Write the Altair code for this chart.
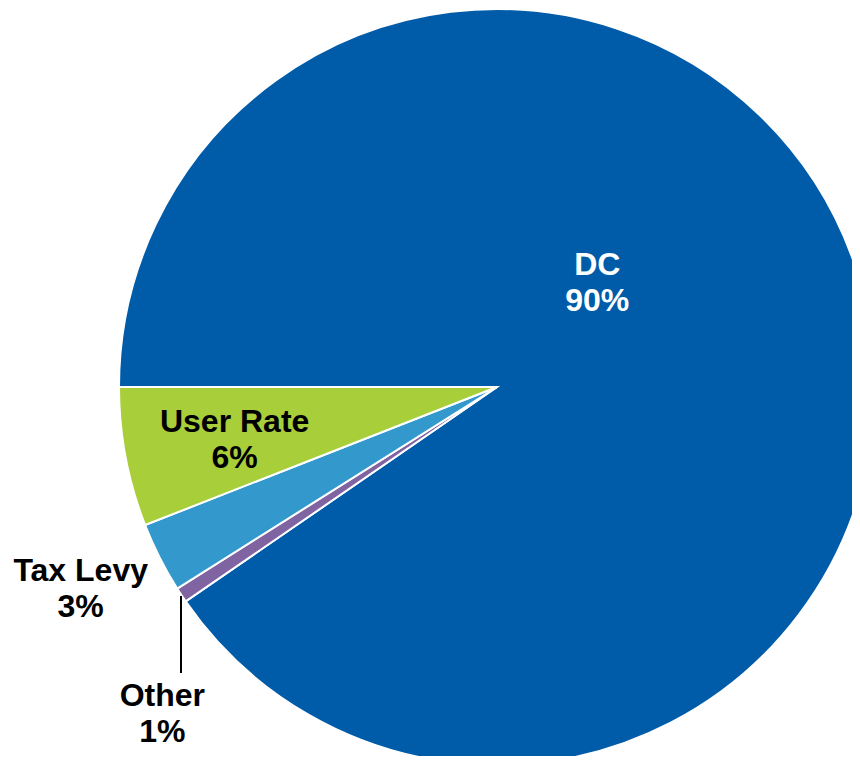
import math
import altair as alt
import pandas as pd

categories = ["DC", "Other", "Tax Levy", "User Rate"]
values = [90.4, 0.65, 3.0, 5.95]
pct_labels = ["90%", "1%", "3%", "6%"]
colors = ["#005BA8", "#8064A2", "#3399CC", "#A8CE3A"]

df = pd.DataFrame({
    "category": categories,
    "value": values,
    "pct": pct_labels,
    "idx": list(range(len(categories))),
})

start = 1.5 * math.pi
theta_scale = alt.Scale(domain=[0, 100], range=[start, start + 2 * math.pi])
CX, CY, R = 489, 379, 378

base = alt.Chart(df).transform_calculate(
    label="datum.category + '\\n' + datum.pct"
).encode(
    theta=alt.Theta("value:Q", stack=True, scale=theta_scale),
    order=alt.Order("idx:Q"),
    x=alt.value(CX),
    y=alt.value(CY),
)

pie = base.mark_arc(radius=R, stroke="white", strokeWidth=2).encode(
    color=alt.Color("category:N",
                    scale=alt.Scale(domain=categories, range=colors),
                    legend=None)
)


def label_layer(cat, radius, dx, dy, color):
    return base.mark_text(
        radius=radius, dx=dx, dy=dy, font="Liberation Sans", fontSize=32,
        fontWeight="bold", lineBreak="\n", lineHeight=36, align="center",
        baseline="middle", color=color,
    ).encode(
        text=alt.condition(alt.datum.category == cat, alt.Text("label:N"), alt.value(""))
    )


labels = [
    label_layer("DC", 127, -21, -84, "white"),
    label_layer("User Rate", 267, 0, -15, "black"),
    label_layer("Tax Levy", 462, -4, -24, "black"),
    label_layer("Other", 378, -19, 101, "black"),
]

leader = alt.Chart(pd.DataFrame({"a": [0]})).mark_rule(
    color="black", strokeWidth=2
).encode(x=alt.value(173), y=alt.value(588), y2=alt.value(665))

chart = alt.layer(pie, leader, *labels).properties(
    width=844, height=748, padding=0,
    autosize=alt.AutoSizeParams(type="none"),
).configure_view(stroke=None)

chart.save("out.html", embed_options={"renderer": "svg", "actions": False})
